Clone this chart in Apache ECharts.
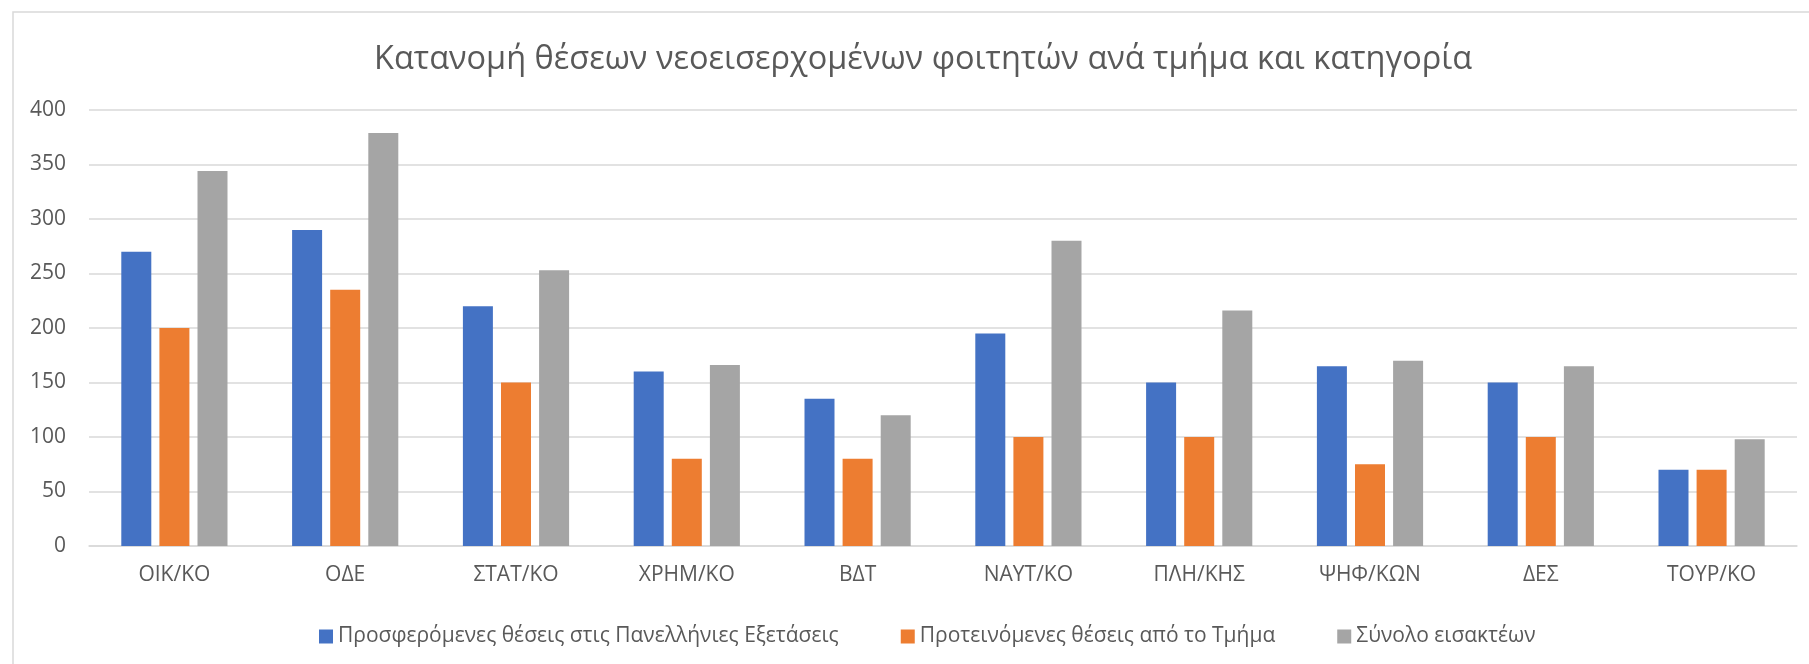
<!DOCTYPE html>
<html>
<head>
<meta charset="utf-8">
<script src="https://cdn.jsdelivr.net/npm/echarts@6/dist/echarts.min.js"></script>
<style>
    html,body{margin:0;padding:0;background:#fff;}
    #chart1{width:1809px;height:664px;}
</style>
</head>
<body>
<div id="chart1"></div>
<script>
// τμήματα
var departments=["ΟΙΚ/ΚΟ","ΟΔΕ","ΣΤΑΤ/ΚΟ","ΧΡΗΜ/ΚΟ","ΒΔΤ","ΝΑΥΤ/ΚΟ","ΠΛΗ/ΚΗΣ","ΨΗΦ/ΚΩΝ","ΔΕΣ","ΤΟΥΡ/ΚΟ"];
var offered=[270,290,220,160,135,195,150,165,150,70];//Πανελλήνιες
var proposed=[200,235,150,80,80,100,100,75,100,70];//Τμήμα
var total=[344,379,253,166,120,280,216,170,165,98];//σύνολο
var seriesNames=["Προσφερόμενες θέσεις στις Πανελλήνιες Εξετάσεις","Προτεινόμενες θέσεις από το Τμήμα","Σύνολο εισακτέων"];

var font="'Open Sans', 'Noto Sans', sans-serif";
var chart=echarts.init(document.getElementById("chart1"));
var option={
    backgroundColor:"#fff",
    animation:false,
    color:["#4472C4","#ED7D31","#A5A5A5"],
    title:{
        text:"Κατανομή θέσεων νεοεισερχομένων φοιτητών ανά τμήμα και κατηγορία",
        left:369,
        top:38,
        textStyle:{fontFamily:font,fontSize:32.5,fontWeight:"normal",color:"#595959"}
    },
    graphic:[{
        type:"rect",
        shape:{x:13,y:12,width:1830,height:700},
        style:{fill:null,stroke:"#d9d9d9",lineWidth:1.5},
        silent:true
    }],
    legend:{
        data:seriesNames,
        left:314,
        top:621,
        itemWidth:14,
        itemHeight:14,
        itemGap:62,
        icon:"rect",
        textStyle:{fontFamily:font,fontSize:21,color:"#595959"}
    },
    grid:{left:89,right:12,top:110,bottom:118},
    xAxis:{
        type:"category",
        data:departments,
        axisTick:{show:false},
        axisLine:{lineStyle:{color:"#d9d9d9",width:1.5}},
        axisLabel:{margin:19,fontFamily:font,fontSize:21,color:"#595959"}
    },
    yAxis:{
        type:"value",
        min:0,
        max:400,
        interval:50,
        axisLine:{show:false},
        axisTick:{show:false},
        splitLine:{lineStyle:{color:"#d9d9d9",width:1.5}},
        axisLabel:{margin:23,fontFamily:font,fontSize:21,color:"#595959"}
    },
    series:[
        {name:seriesNames[0],type:"bar",data:offered,barWidth:30,barGap:"27%"},
        {name:seriesNames[1],type:"bar",data:proposed,barWidth:30,barGap:"27%"},
        {name:seriesNames[2],type:"bar",data:total,barWidth:30,barGap:"27%"}
    ]
};
chart.setOption(option);
</script>
</body>
</html>
